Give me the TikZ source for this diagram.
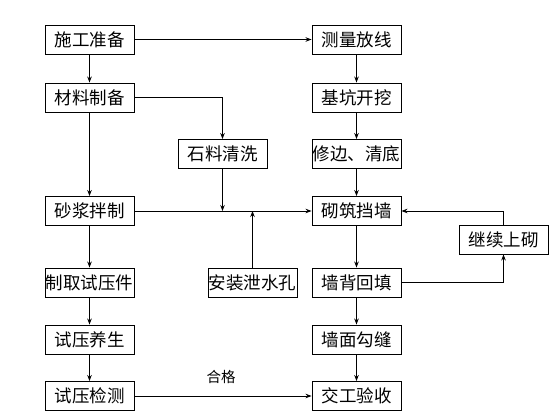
\documentclass[tikz,border=0pt]{standalone}
\usepackage{fontspec}
\setmainfont{Noto Sans CJK SC}
\usetikzlibrary{arrows.meta}
\begin{document}
\begin{tikzpicture}[x=1pt,y=-1pt,
  stepbox/.style={draw,line width=0.9pt,minimum width=89pt,minimum height=29pt,inner sep=0pt,font=\fontsize{17.5}{19}\selectfont},
  conn/.style={line width=0.8pt,-{Stealth[length=6pt,width=4.5pt]}},
  plain/.style={line width=0.8pt}]
\useasboundingbox (0,0) rectangle (560,420);
\node[stepbox] (a1) at (89.5,39.5) {施工准备};
\node[stepbox] (a2) at (89.5,97.5) {材料制备};
\node[stepbox] (a3) at (89.5,211) {砂浆拌制};
\node[stepbox] (a4) at (89.5,282.5) {制取试压件};
\node[stepbox] (a5) at (89.5,339.5) {试压养生};
\node[stepbox] (a6) at (89.5,396) {试压检测};
\node[stepbox] (s1) at (222.5,154) {石料清洗};
\node[stepbox] (s2) at (252.5,282.5) {安装泄水孔};
\node[stepbox] (b1) at (356.5,39.5) {测量放线};
\node[stepbox] (b2) at (356.5,97.5) {基坑开挖};
\node[stepbox] (b3) at (356.5,154) {修边、清底};
\node[stepbox] (b4) at (356.5,211) {砌筑挡墙};
\node[stepbox] (b5) at (356.5,282.5) {墙背回填};
\node[stepbox] (b6) at (356.5,339.5) {墙面勾缝};
\node[stepbox] (b7) at (356.5,396) {交工验收};
\node[stepbox] (c1) at (503.5,239.5) {继续上砌};
\coordinate (j1) at (222.5,211);
\coordinate (j2) at (252.5,211);
\draw[conn] (a1) -- (b1);
\draw[conn] (a1) -- (a2);
\draw[conn] (a2) -- (a3);
\draw[conn] (a2.east) -| (s1.north);
\draw[conn] (s1.south) -- (j1);
\draw[conn] (a3) -- (b4);
\draw[conn] (s2.north) -- (j2);
\draw[conn] (a3) -- (a4);
\draw[conn] (a4) -- (a5);
\draw[conn] (a5) -- (a6);
\draw[conn] (a6) -- node[above=12pt,pos=0.49,inner sep=0pt,font=\fontsize{14.5}{16}\selectfont]{合格} (b7);
\draw[conn] (b1) -- (b2);
\draw[conn] (b2) -- (b3);
\draw[conn] (b3) -- (b4);
\draw[conn] (b4) -- (b5);
\draw[conn] (b5) -- (b6);
\draw[conn] (b6) -- (b7);
\draw[conn] (b5.east) -| (c1.south);
\draw[conn] (c1.north) |- (b4.east);
\end{tikzpicture}
\end{document}
